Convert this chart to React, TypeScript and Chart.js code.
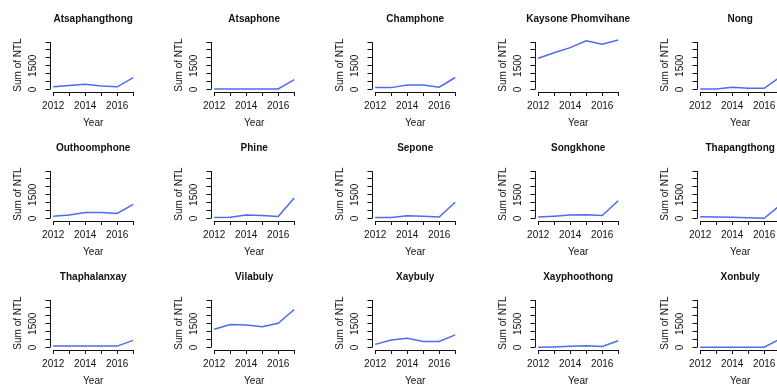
import React, { useEffect, useRef } from "react";
import { Chart, registerables } from "chart.js";

Chart.register(...registerables);

// ---------- data ----------
const years = [2012, 2013, 2014, 2015, 2016, 2017];
const xTickLabels = [2012, 2014, 2016];
const yTickValues = [0, 500, 1000, 1500, 2000, 2500, 3000];
const yTickLabels = [0, 1500];

const districts = [
  "Atsaphangthong", "Atsaphone", "Champhone", "Kaysone Phomvihane", "Nong",
  "Outhoomphone", "Phine", "Sepone", "Songkhone", "Thapangthong",
  "Thaphalanxay", "Vilabuly", "Xaybuly", "Xayphoothong", "Xonbuly",
];

const atsaphangthong = [170, 250, 330, 230, 170, 750];
const atsaphone = [30, 30, 30, 30, 40, 620];
const champhone = [120, 120, 280, 280, 150, 760];
const kaysonePhomvihane = [1980, 2320, 2650, 3080, 2860, 3130];
const nong = [40, 40, 140, 80, 80, 800];
const outhoomphone = [150, 230, 380, 380, 320, 900];
const phine = [60, 80, 230, 190, 130, 1300];
const sepone = [70, 70, 170, 150, 100, 1030];
const songkhone = [100, 150, 220, 240, 190, 1120];
const thapangthong = [110, 100, 80, 50, 20, 850];
const thaphalanxay = [100, 100, 100, 100, 90, 450];
const vilabuly = [1150, 1450, 1430, 1320, 1530, 2400];
const xaybuly = [200, 480, 580, 380, 380, 800];
const xayphoothong = [20, 40, 80, 110, 60, 430];
const xonbuly = [20, 20, 20, 20, 20, 550];

const seriesList = [
  atsaphangthong, atsaphone, champhone, kaysonePhomvihane, nong,
  outhoomphone, phine, sepone, songkhone, thapangthong,
  thaphalanxay, vilabuly, xaybuly, xayphoothong, xonbuly,
];

// ---------- style / layout ----------
const INK = "#111111";
const LINE = "#4a6cf0";
const FONT = "'Liberation Sans', Arial, Helvetica, sans-serif";
const CANVAS_W = 162;
const CANVAS_H = 129;
const COL_LEFT = [0, 161, 322, 485, 647];
const ROW_TOP = [0, 129, 258];

// R-style axis lines spanning only the tick range, and a title centred over the plot region
const rStylePlugin = {
  id: "rStyle",
  afterDraw(chart: any) {
    const { ctx, chartArea, scales } = chart;
    const x = scales.x;
    const y = scales.y;
    ctx.save();
    ctx.strokeStyle = INK;
    ctx.lineWidth = 1;
    ctx.beginPath();
    const lx = Math.round(chartArea.left) + 0.5;
    ctx.moveTo(lx, y.getPixelForValue(yTickValues[0]));
    ctx.lineTo(lx, y.getPixelForValue(yTickValues[yTickValues.length - 1]));
    const by = Math.round(chartArea.bottom) + 0.5;
    ctx.moveTo(x.getPixelForValue(years[0]), by);
    ctx.lineTo(x.getPixelForValue(years[years.length - 1]), by);
    ctx.stroke();

    const title = chart.options.plugins.panelTitle?.text ?? "";
    ctx.fillStyle = INK;
    ctx.font = `bold 10px ${FONT}`;
    ctx.textAlign = "center";
    ctx.textBaseline = "middle";
    ctx.fillText(title, (chartArea.left + chartArea.right) / 2, 19.5);
    ctx.restore();
  },
};

function Panel({ title, values, left, top }: { title: string; values: number[]; left: number; top: number }) {
  const ref = useRef<HTMLCanvasElement>(null);
  useEffect(() => {
    const chart = new Chart(ref.current as HTMLCanvasElement, {
      type: "line",
      data: {
        datasets: [
          {
            data: years.map((yr, i) => ({ x: yr, y: values[i] })),
            borderColor: LINE,
            borderWidth: 1.5,
            pointRadius: 0,
            tension: 0,
            fill: false,
          },
        ],
      },
      options: {
        responsive: false,
        animation: false,
        devicePixelRatio: 1,
        layout: { padding: { left: 0, right: 25.6, top: 38.5, bottom: 0 } },
        plugins: {
          legend: { display: false },
          tooltip: { enabled: false },
          title: { display: false },
          panelTitle: { text: title },
        },
        scales: {
          x: {
            type: "linear",
            min: 2011.8,
            max: 2017.2,
            afterBuildTicks: (ax: any) => {
              ax.ticks = years.map((v) => ({ value: v }));
            },
            afterFit: (ax: any) => {
              ax.height = 37.5;
            },
            border: { display: false },
            grid: {
              display: true,
              drawOnChartArea: false,
              drawTicks: true,
              tickLength: 4.5,
              tickColor: INK,
              tickWidth: 1,
            },
            ticks: {
              autoSkip: false,
              minRotation: 0,
              maxRotation: 0,
              padding: 4.5,
              color: INK,
              font: { family: FONT, size: 10 },
              callback: (v: any) => (xTickLabels.includes(Number(v)) ? String(v) : ""),
            },
            title: {
              display: true,
              text: "Year",
              color: INK,
              font: { family: FONT, size: 10 },
              padding: { top: 0, bottom: 0 },
            },
          },
          y: {
            type: "linear",
            min: -125,
            max: 3225,
            afterBuildTicks: (ax: any) => {
              ax.ticks = yTickValues.map((v) => ({ value: v }));
            },
            afterFit: (ax: any) => {
              ax.width = 50;
            },
            border: { display: false },
            grid: {
              display: true,
              drawOnChartArea: false,
              drawTicks: true,
              tickLength: 4.5,
              tickColor: INK,
              tickWidth: 1,
            },
            ticks: {
              autoSkip: false,
              minRotation: 90,
              maxRotation: 90,
              crossAlign: "center",
              padding: 1.5,
              color: INK,
              font: { family: FONT, size: 10 },
              callback: (v: any) => (yTickLabels.includes(Number(v)) ? String(v) : ""),
            },
            title: {
              display: true,
              text: "Sum of NTL",
              color: INK,
              font: { family: FONT, size: 10 },
              padding: { top: 12.5, bottom: 0 },
            },
          },
        },
      } as any,
      plugins: [rStylePlugin],
    });
    return () => chart.destroy();
  }, [title, values]);
  return (
    <div style={{ position: "absolute", left, top, width: CANVAS_W, height: CANVAS_H }}>
      <canvas ref={ref} width={CANVAS_W} height={CANVAS_H} />
    </div>
  );
}

export default function App() {
  return (
    <div
      style={{
        position: "absolute",
        left: 0,
        top: 0,
        width: 777,
        height: 385,
        overflow: "hidden",
        background: "#ffffff",
      }}
    >
      {districts.map((name, i) => (
        <Panel
          key={name}
          title={name}
          values={seriesList[i]}
          left={COL_LEFT[i % 5]}
          top={ROW_TOP[Math.floor(i / 5)]}
        />
      ))}
    </div>
  );
}
